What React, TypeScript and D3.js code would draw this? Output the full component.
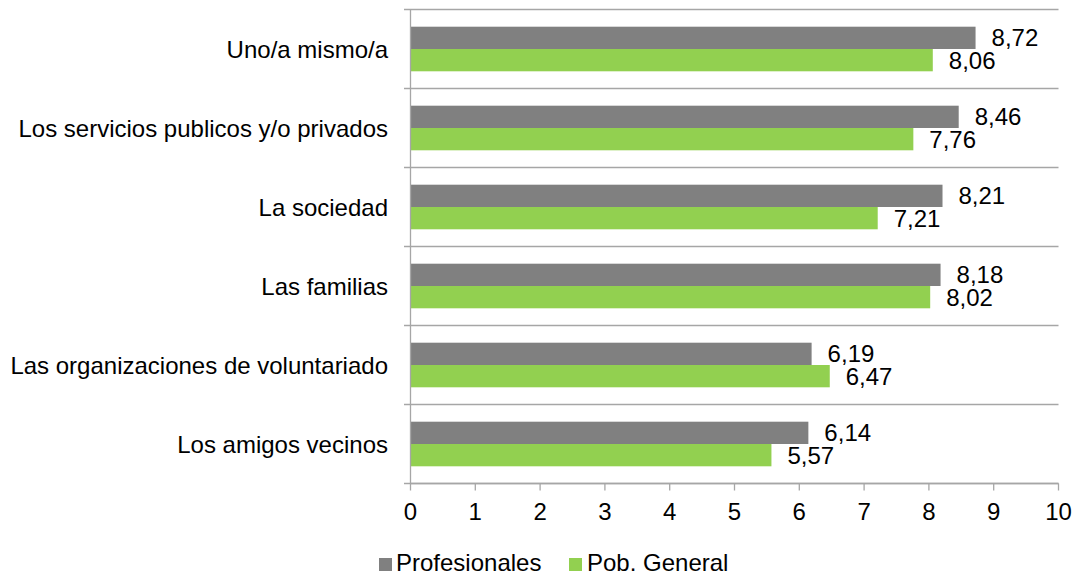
import React from "react";
import * as d3 from "d3";

const categories = [
  "Uno/a mismo/a",
  "Los servicios publicos y/o privados",
  "La sociedad",
  "Las familias",
  "Las organizaciones de voluntariado",
  "Los amigos vecinos",
];
const profesionales = [8.72, 8.46, 8.21, 8.18, 6.19, 6.14];
const pobGeneral = [8.06, 7.76, 7.21, 8.02, 6.47, 5.57];
const seriesNames = ["Profesionales", "Pob. General"];
const seriesColors = ["#808080", "#92D050"];
const xTicks = [0, 1, 2, 3, 4, 5, 6, 7, 8, 9, 10];

const W = 1078;
const H = 581;
const FONT = "'Liberation Sans', Arial, sans-serif";
const FS = 24;

export default function App() {
  const left = 410.5;
  const right = 1058.5;
  const top = 9.5;
  const bottom = 483.5;
  const x = d3.scaleLinear().domain([0, 10]).range([left, right]);
  const y = d3.scaleBand<string>().domain(categories).range([top, bottom]).paddingInner(0).paddingOuter(0);
  const bw = y.bandwidth();
  const inner = d3
    .scaleBand<string>()
    .domain(seriesNames)
    .range([0, bw])
    .paddingInner(0)
    .paddingOuter(0.771);
  const series = [profesionales, pobGeneral];
  const fmt = (v: number) => v.toFixed(2).replace(".", ",");
  const boundaries = d3.range(categories.length + 1).map((i) => top + i * bw);
  const gridColor = "#A6A6A6";

  return (
    <svg width={W} height={H} style={{ position: "absolute", left: 0, top: 0, background: "#fff" }} fontFamily={FONT}>
      {boundaries.map((b, i) => (
        <line key={"g" + i} x1={404} x2={right} y1={b} y2={b} stroke={gridColor} strokeWidth={1.3} />
      ))}
      {categories.map((c, ci) =>
        series.map((s, si) => (
          <rect
            key={c + si}
            x={x(0)}
            y={(y(c) as number) + (inner(seriesNames[si]) as number)}
            width={x(s[ci]) - x(0)}
            height={inner.bandwidth()}
            fill={seriesColors[si]}
          />
        ))
      )}
      {categories.map((c, ci) =>
        series.map((s, si) => (
          <text
            key={"v" + c + si}
            x={x(s[ci]) + 16}
            y={(y(c) as number) + (inner(seriesNames[si]) as number) + inner.bandwidth() / 2}
            dy="0.36em"
            fontSize={FS}
            fill="#000"
          >
            {fmt(s[ci])}
          </text>
        ))
      )}
      <line x1={left} x2={left} y1={top} y2={bottom} stroke={gridColor} strokeWidth={1.3} />
      <line x1={left} x2={right} y1={bottom} y2={bottom} stroke={gridColor} strokeWidth={1.3} />
      {xTicks.map((t) => (
        <g key={"t" + t}>
          <line x1={x(t)} x2={x(t)} y1={bottom} y2={bottom + 7} stroke={gridColor} strokeWidth={1.3} />
          <text x={x(t)} y={520} textAnchor="middle" fontSize={FS} fill="#000">
            {t}
          </text>
        </g>
      ))}
      {categories.map((c) => (
        <text
          key={"c" + c}
          x={388}
          y={(y(c) as number) + bw / 2}
          dy="0.36em"
          textAnchor="end"
          fontSize={FS}
          fill="#000"
        >
          {c}
        </text>
      ))}
      <rect x={379} y={558} width={13} height={13} fill={seriesColors[0]} />
      <text x={396} y={571} fontSize={FS} fill="#000">
        {seriesNames[0]}
      </text>
      <rect x={569} y={558} width={13} height={13} fill={seriesColors[1]} />
      <text x={587} y={571} fontSize={FS} fill="#000">
        {seriesNames[1]}
      </text>
    </svg>
  );
}
